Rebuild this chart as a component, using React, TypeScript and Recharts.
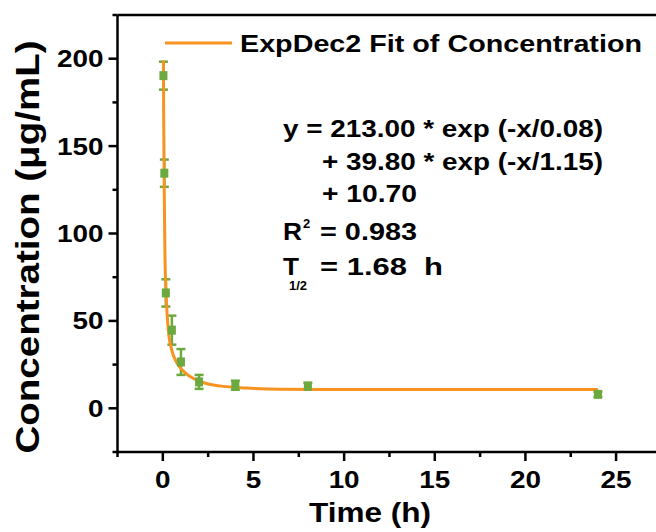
import React from 'react';
import { ComposedChart, Scatter, Line, ErrorBar, XAxis, YAxis } from 'recharts';

// measured points (h, ug/mL) with SD
const times = [0.033, 0.083, 0.167, 0.5, 1, 2, 4, 8, 24];
const conc = [190.3, 134.5, 66, 44.7, 26.5, 15.1, 13.2, 12.6, 8.0];
const sd = [8, 7.8, 7.8, 8.3, 7.4, 4, 2.6, 2, 1.5];

// ExpDec2 fit curve
const fitX = [0.033, 0.05, 0.07, 0.09, 0.12, 0.18, 0.3, 0.5, 0.75, 1.2, 1.9, 2.8, 3.5, 4.6, 6.5, 10, 15, 20, 24];
const fitY = [199, 165, 135, 112, 86, 66, 45, 33, 26.5, 20.6, 16, 13.3, 12.4, 11.6, 10.9, 10.7, 10.7, 10.7, 10.7];

const xTicks = [-2.5, 0, 2.5, 5, 7.5, 10, 12.5, 15, 17.5, 20, 22.5, 25, 27.5];
const yTicks = [-25, 0, 25, 50, 75, 100, 125, 150, 175, 200, 225];

const GREEN = '#6CA93F';
const ORANGE = '#F7931E';
const FONT = "'Liberation Sans', Arial, sans-serif";

const points = times.map((t, i) => ({ x: t, y: conc[i], err: sd[i] }));
const fit = fitX.map((t, i) => ({ x: t, y: fitY[i] }));

const YTick = (props: any) => {
  const { x, y, payload } = props;
  const v = payload.value;
  const major = v % 50 === 0;
  const label = String(v);
  return (
    <g>
      <line x1={x} x2={x - (major ? 9 : 5)} y1={y} y2={y} stroke="#000" strokeWidth={2.5} />
      {major && (
        <text x={x - 14} y={y + 8.5} textAnchor="end" fontFamily={FONT} fontWeight="bold" fontSize={24}
          textLength={label.length * 15.5} lengthAdjust="spacingAndGlyphs" fill="#000">
          {label}
        </text>
      )}
    </g>
  );
};

const XTick = (props: any) => {
  const { x, y, payload } = props;
  const v = payload.value;
  const major = v % 5 === 0;
  const label = String(v);
  return (
    <g>
      <line x1={x} x2={x} y1={y} y2={y + (major ? 9 : 5)} stroke="#000" strokeWidth={2.5} />
      {major && (
        <text x={x} y={y + 36} textAnchor="middle" fontFamily={FONT} fontWeight="bold" fontSize={24}
          textLength={label.length * 15.5} lengthAdjust="spacingAndGlyphs" fill="#000">
          {label}
        </text>
      )}
    </g>
  );
};

const Square = (props: any) => {
  const { cx, cy } = props;
  return <rect x={cx - 4} y={cy - 4.5} width={8} height={9} fill={GREEN} />;
};

const txt = { fontFamily: FONT, fontWeight: 'bold' as const, fill: '#000' };

export default function App() {
  return (
    <div style={{ position: 'absolute', top: 0, left: 0, width: 656, height: 532, overflow: 'hidden', background: '#fff' }}>
      <ComposedChart width={680} height={532} margin={{ top: 15, right: 18.6, left: 57.5, bottom: 40 }}>
        <XAxis type="number" dataKey="x" domain={[-2.5, 27.5]} ticks={xTicks} interval={0} allowDataOverflow
          height={40} tickSize={0} tickMargin={0} tick={<XTick />}
          axisLine={{ stroke: '#000', strokeWidth: 2.5 }} />
        <YAxis type="number" dataKey="y" domain={[-25, 225]} ticks={yTicks} interval={0} allowDataOverflow
          width={60} tickSize={0} tickMargin={0} tick={<YTick />}
          axisLine={{ stroke: '#000', strokeWidth: 2.5 }} />
        <Scatter data={points} dataKey="y" shape={<Square />} isAnimationActive={false}>
          <ErrorBar dataKey="err" direction="y" width={4.5} strokeWidth={2.5} stroke={GREEN} isAnimationActive={false} />
        </Scatter>
        <Line data={fit} dataKey="y" type="monotone" stroke={ORANGE} strokeWidth={3} dot={false}
          activeDot={false} isAnimationActive={false} />
      </ComposedChart>

      <svg width={656} height={532} style={{ position: 'absolute', top: 0, left: 0, pointerEvents: 'none' }}>
        {/* top frame line */}
        <line x1={117.5} x2={662} y1={15} y2={15} stroke="#000" strokeWidth={2.5} />

        {/* legend */}
        <line x1={165} x2={232} y1={43} y2={43} stroke={ORANGE} strokeWidth={3} />
        <text x={240} y={52} fontSize={24} textLength={402} lengthAdjust="spacingAndGlyphs" {...txt}>
          ExpDec2 Fit of Concentration
        </text>

        {/* fit equation */}
        <text x={283} y={137} fontSize={23} textLength={320} lengthAdjust="spacingAndGlyphs" {...txt}>
          y = 213.00 * exp (-x/0.08)
        </text>
        <text x={322} y={170} fontSize={23} textLength={281} lengthAdjust="spacingAndGlyphs" {...txt}>
          + 39.80 * exp (-x/1.15)
        </text>
        <text x={322} y={202} fontSize={23} textLength={95} lengthAdjust="spacingAndGlyphs" {...txt}>
          + 10.70
        </text>
        <text x={283} y={240} fontSize={23} textLength={19} lengthAdjust="spacingAndGlyphs" {...txt}>R</text>
        <text x={303} y={228} fontSize={13} {...txt}>2</text>
        <text x={320} y={240} fontSize={23} textLength={97} lengthAdjust="spacingAndGlyphs" {...txt}>
          = 0.983
        </text>
        <text x={283} y={275} fontSize={23} textLength={16} lengthAdjust="spacingAndGlyphs" {...txt}>T</text>
        <text x={289} y={290} fontSize={13} {...txt}>1/2</text>
        <text x={320} y={275} fontSize={23} textLength={123} lengthAdjust="spacingAndGlyphs"
          style={{ whiteSpace: 'pre' }} {...txt}>
          {'= 1.68  h'}
        </text>

        {/* axis titles */}
        <text x={370} y={522} fontSize={28} textAnchor="middle" textLength={122} lengthAdjust="spacingAndGlyphs" {...txt}>
          Time (h)
        </text>
        <text transform="translate(39,247) rotate(-90)" x={0} y={0} fontSize={33} textAnchor="middle"
          textLength={413} lengthAdjust="spacingAndGlyphs" {...txt}>
          Concentration (μg/mL)
        </text>
      </svg>
    </div>
  );
}
